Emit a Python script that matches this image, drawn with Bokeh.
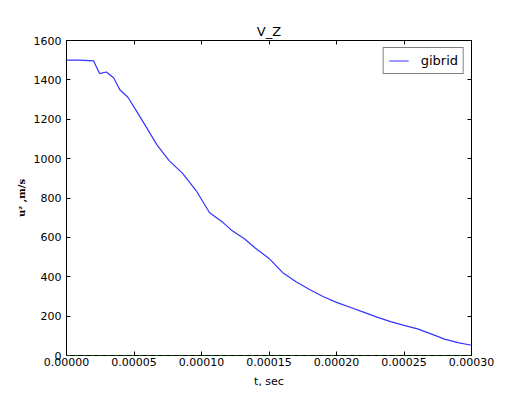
from bokeh.plotting import figure
from bokeh.models import LinearAxis, NumeralTickFormatter, Span, Legend, LegendItem, FixedTicker
from bokeh.embed import file_html
from bokeh.resources import INLINE

t_sec = [0.0, 1.0e-5, 2.0e-5, 2.45e-5, 2.95e-5, 3.5e-5, 3.95e-5, 4.55e-5, 5.2e-5, 6.0e-5,
         6.7e-5, 7.6e-5, 8.6e-5, 9.6e-5, 10.6e-5, 11.6e-5, 12.2e-5, 13.2e-5, 14.0e-5, 15.0e-5,
         16.0e-5, 17.0e-5, 18.0e-5, 19.0e-5, 20.0e-5, 21.0e-5, 22.0e-5, 23.0e-5, 24.0e-5, 25.0e-5,
         26.0e-5, 27.0e-5, 28.0e-5, 29.0e-5, 30.0e-5]
vz_gibrid = [1500, 1500, 1497, 1432, 1440, 1410, 1350, 1312, 1240, 1150,
             1070, 990, 925, 838, 725, 675, 638, 592, 545, 493,
             422, 375, 335, 300, 270, 245, 220, 195, 172, 153,
             135, 110, 83, 65, 52]
x_ticks = [0.0, 0.00005, 0.0001, 0.00015, 0.0002, 0.00025, 0.0003]
y_ticks = [0, 200, 400, 600, 800, 1000, 1200, 1400, 1600]

FONT = "DejaVu Sans"

p = figure(frame_width=405, frame_height=315, output_backend="svg", toolbar_location=None,
           x_range=(0, 0.0003), y_range=(0, 1600), title="V_Z",
           min_border_left=66, min_border_right=47, min_border_top=40, min_border_bottom=32)
p.title.align = "center"
p.title.text_font = FONT
p.title.text_font_size = "13px"
p.title.text_font_style = "normal"
p.title.text_color = "black"
p.title.standoff = 3

p.xgrid.visible = False
p.ygrid.visible = False
p.outline_line_color = "black"
p.outline_line_width = 1
p.background_fill_color = "white"
p.border_fill_color = "white"

def style_axis(ax, labels=True):
    ax.major_tick_in = 4
    ax.major_tick_out = 0
    ax.minor_tick_in = 0
    ax.minor_tick_out = 0
    ax.axis_line_color = None
    ax.major_tick_line_color = "black"
    ax.major_label_text_font = FONT
    ax.major_label_text_font_size = "11px"
    ax.major_label_text_color = "black"
    if not labels:
        ax.major_label_text_font_size = "0px"
        ax.major_label_text_alpha = 0

xa = p.xaxis[0]
xa.ticker = FixedTicker(ticks=x_ticks)
xa.formatter = NumeralTickFormatter(format="0.00000")
xa.axis_label = "t, sec"
xa.axis_label_text_font = FONT
xa.axis_label_text_font_size = "11px"
xa.axis_label_text_font_style = "normal"
xa.axis_label_text_color = "black"
xa.axis_label_standoff = 6
xa.major_label_standoff = 2
style_axis(xa)

ya = p.yaxis[0]
ya.ticker = FixedTicker(ticks=y_ticks)
ya.axis_label = "u\u1dbb ,m/s"
ya.axis_label_text_font = "DejaVu Serif"
ya.axis_label_text_font_size = "10px"
ya.axis_label_text_font_style = "bold"
ya.axis_label_text_color = "black"
ya.axis_label_standoff = 4
ya.major_label_standoff = 5
style_axis(ya)

top = LinearAxis(ticker=FixedTicker(ticks=x_ticks))
style_axis(top, labels=False)
p.add_layout(top, "above")
right = LinearAxis(ticker=FixedTicker(ticks=y_ticks))
style_axis(right, labels=False)
p.add_layout(right, "right")

zero = Span(location=0, dimension="width", line_color="green", line_dash="4 4", line_width=1)
p.add_layout(zero)

r = p.line(t_sec, vz_gibrid, line_color="blue", line_width=1.2, line_alpha=0.8)

legend = Legend(items=[LegendItem(label="gibrid", renderers=[r])], location="top_right")
legend.label_text_font = FONT
legend.label_text_font_size = "13px"
legend.label_text_color = "black"
legend.border_line_color = "black"
legend.border_line_width = 1
legend.padding = 5
legend.spacing = 0
legend.margin = 7
legend.glyph_width = 20
legend.glyph_height = 13
legend.label_height = 13
legend.label_standoff = 12
legend.background_fill_alpha = 1
p.add_layout(legend)

open("out.html", "w").write(file_html(p, INLINE))
